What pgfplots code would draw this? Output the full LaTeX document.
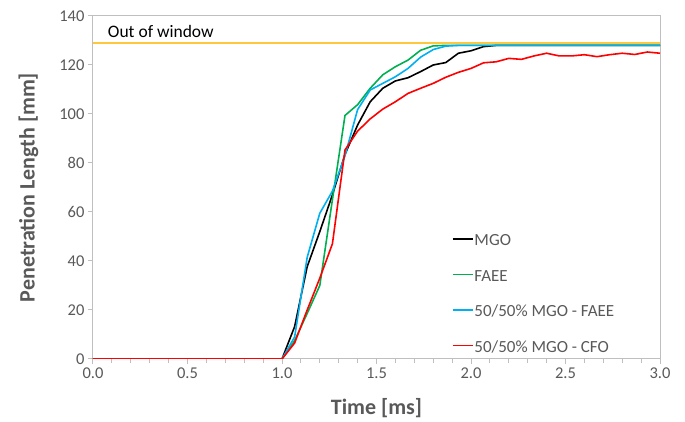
\documentclass[border=0pt]{standalone}
\usepackage{pgfplots}
\usepackage{pgfplotstable}
\pgfplotsset{compat=1.18}
\usepackage{fontspec}
\setmainfont{Carlito}

\definecolor{txt}{RGB}{89,89,89}
\definecolor{frame}{RGB}{191,191,191}
\definecolor{cgreen}{RGB}{0,176,80}
\definecolor{cblue}{RGB}{0,176,240}
\definecolor{cred}{RGB}{255,0,0}
\definecolor{cgold}{RGB}{255,200,60}

% Spray penetration length, one frame every 1/15 ms
\pgfplotstableread{
t      mgo    faee   mgofaee mgocfo
0.0000 0      0      0       0
1.0000 0      0      0       0
1.0667 13.2   7.5    9.0     6.5
1.1333 37.7   18.6   41.5    20.0
1.2000 52.0   30.0   59.5    33.0
1.2667 67.0   65.0   68.5    47.0
1.3333 83.5   99.4   83.0    85.3
1.4000 95.5   103.8  101.8   93.0
1.4667 105.0  110.5  109.8   98.0
1.5333 110.5  116.0  112.5   102.0
1.6000 113.5  119.3  115.2   105.0
1.6667 114.8  122.0  118.6   108.4
1.7333 117.3  126.0  123.2   110.5
1.8000 120.0  127.8  126.3   112.5
1.8667 121.0  128.0  127.7   115.0
1.9333 124.8  128.0  128.0   117.0
2.0000 125.8  128.0  128.0   118.6
2.0667 127.5  128.0  128.0   120.9
2.1333 128.0  128.0  128.0   121.3
2.2000 128.0  128.0  128.0   122.7
2.2667 128.0  128.0  128.0   122.3
2.3333 128.0  128.0  128.0   123.7
2.4000 128.0  128.0  128.0   124.8
2.4667 128.0  128.0  128.0   123.7
2.5333 128.0  128.0  128.0   123.7
2.6000 128.0  128.0  128.0   124.2
2.6667 128.0  128.0  128.0   123.4
2.7333 128.0  128.0  128.0   124.2
2.8000 128.0  128.0  128.0   124.8
2.8667 128.0  128.0  128.0   124.3
2.9333 128.0  128.0  128.0   125.3
3.0000 128.0  128.0  128.0   124.8
}\penetration

% fixed-height strut so every legend row is equally tall
\newcommand{\legstrut}{\rule[-6pt]{0pt}{21pt}}

\begin{document}
\begin{tikzpicture}
\begin{axis}[
  at={(0,0)}, anchor=south west,
  scale only axis,
  width=567pt, height=343pt,
  xmin=0, xmax=3, ymin=0, ymax=140,
  xtick distance=0.5, minor x tick num=4,
  ytick={0,20,...,140},
  axis line style={frame, line width=1pt},
  tick style={frame, line width=1pt},
  tick align=outside,
  xtick pos=bottom, ytick pos=left,
  major tick length=5pt, minor tick length=4pt,
  /pgf/number format/assume math mode=true,
  xticklabel style={/pgf/number format/.cd, fixed, fixed zerofill, precision=1},
  yticklabel style={/pgf/number format/.cd, fixed, precision=0},
  tick label style={font=\fontsize{16.5}{19}\selectfont, text=txt},
  xlabel={\textbf{Time [ms]}},
  ylabel={\textbf{Penetration Length [mm]}},
  label style={font=\fontsize{22}{26}\selectfont, text=txt},
  xlabel style={at={(axis description cs:0.5,0)}, anchor=base, yshift=-56pt},
  ylabel style={at={(axis description cs:-0.096,0.5)}, anchor=south, inner sep=0pt},
  legend cell align=left,
  legend image code/.code={\draw[#1, line width=1.6pt] (0pt,0pt) -- (20pt,0pt);},
  legend style={at={(axis description cs:0.6326,0.3775)}, anchor=north west,
    draw=none, fill=none, inner sep=0pt, row sep=17pt,
    font=\fontsize{17}{20}\selectfont, text=txt,
    nodes={inner sep=1pt}},
  every axis plot/.append style={line width=1.6pt},
]
\addplot[cgold, forget plot] coordinates {(0,129) (3,129)};
\addplot[black]  table[x=t, y=mgo]     {\penetration};
\addlegendentry{\legstrut MGO}
\addplot[cgreen] table[x=t, y=faee]    {\penetration};
\addlegendentry{\legstrut FAEE}
\addplot[cblue]  table[x=t, y=mgofaee] {\penetration};
\addlegendentry{\legstrut 50/50\% MGO - FAEE}
\addplot[cred]   table[x=t, y=mgocfo]  {\penetration};
\addlegendentry{\legstrut 50/50\% MGO - CFO}
\node[anchor=base west, inner sep=0pt, font=\fontsize{17.5}{20}\selectfont]
  at (axis cs:0.078,131.3) {Out of window};
\end{axis}
\pgfresetboundingbox
\path[use as bounding box] (-93pt,-63pt) rectangle (592pt,359pt);
\end{tikzpicture}
\end{document}
